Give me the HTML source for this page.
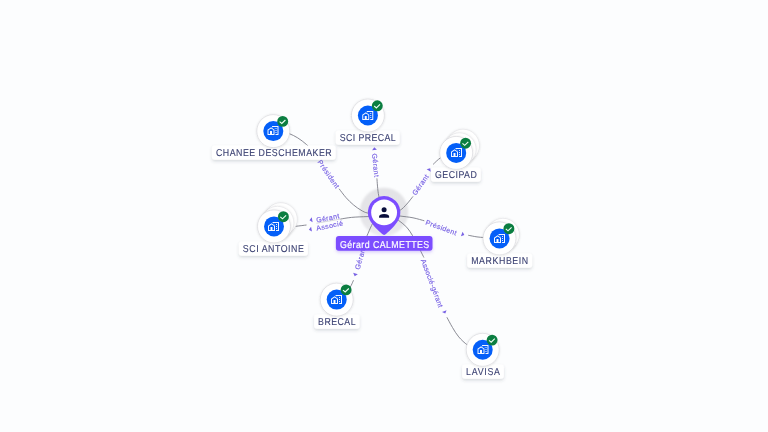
<!DOCTYPE html>
<html lang="fr"><head><meta charset="utf-8"><title>Graphe</title>
<style>
html,body{margin:0;padding:0;width:768px;height:432px;overflow:hidden;background:#fcfdfe}
svg{display:block;will-change:transform;text-rendering:geometricPrecision;font-family:"Liberation Sans",sans-serif}
.nl{font-size:10px;fill:#3c4273;text-anchor:middle;stroke:#3c4273;stroke-width:0.12px}
.el{font-size:7px;fill:#7862e4;text-anchor:middle;stroke:#7862e4;stroke-width:0.15px}
.edge{fill:none;stroke:#7d7e88;stroke-width:0.9}
</style></head><body>
<svg width="768" height="432" viewBox="0 0 768 432">
<defs>
<filter id="sh" x="-30%" y="-50%" width="160%" height="250%"><feDropShadow dx="0" dy="1.7" stdDeviation="1.7" flood-color="#4a4c60" flood-opacity="0.2"/></filter>
<filter id="cs" x="-30%" y="-30%" width="160%" height="160%"><feDropShadow dx="0" dy="0.4" stdDeviation="0.9" flood-color="#000" flood-opacity="0.14"/></filter>
<filter id="ps" x="-30%" y="-50%" width="160%" height="250%"><feDropShadow dx="0" dy="1.5" stdDeviation="1.6" flood-color="#7950f2" flood-opacity="0.3"/></filter>
<g id="ico" fill="#fff" stroke="#045ff8" stroke-width="0.12" transform="translate(-6,-6) scale(0.5)"><path d="M17 15h2v2h-2zM17 11h2v2h-2zM17 7h2v2h-2zM13.74 7l1.26.84V7z"/><path d="M10 3v1.51l2 1.33V5h9v14h-4v2h6V3z"/><path d="M8.17 5.7L15 10.25V21H1V10.48L8.17 5.7zM10 19h3v-7.84L8.17 8.09 3 11.38V19h3v-6h4v6z"/></g>
<linearGradient id="hg" x1="0" y1="0" x2="0" y2="1"><stop offset="0" stop-color="#e3e3e6"/><stop offset="0.6" stop-color="#e4e4e7"/><stop offset="1" stop-color="#ebebee"/></linearGradient>
<filter id="hb" x="-10%" y="-10%" width="120%" height="120%"><feGaussianBlur stdDeviation="0.8"/></filter>
</defs>
<rect width="768" height="432" fill="#fcfdfe"/>
<circle cx="384.0" cy="211.9" r="24.2" fill="url(#hg)" filter="url(#hb)"/>
<path class="edge" opacity="0.32" d="M316.5 223.2L340.3 219.1"/>
<path class="edge" d="M384.00 212.40C383.12 209.65 379.93 201.57 378.75 195.90C377.57 190.23 377.21 181.32 376.90 178.40"/>
<path class="edge" d="M280.00 130.50C281.50 131.00 286.04 132.27 289.00 133.50C291.96 134.73 294.83 136.07 297.75 137.90C300.67 139.73 303.96 142.32 306.50 144.50C309.04 146.68 311.92 149.92 313.00 151.00"/>
<path class="edge" d="M339.10 188.75C340.25 190.22 343.60 194.91 346.00 197.60C348.40 200.29 351.00 202.80 353.50 204.90C356.00 207.00 358.60 208.83 361.00 210.20C363.40 211.57 364.73 212.47 367.90 213.10C371.07 213.73 377.98 213.85 380.00 214.00"/>
<path class="edge" d="M390.00 214.00C391.65 213.40 397.11 212.05 399.90 210.40C402.69 208.75 404.57 206.43 406.75 204.10C408.93 201.77 411.96 197.68 413.00 196.40"/>
<path class="edge" d="M433.10 164.40C434.35 163.29 437.78 159.57 440.60 157.75C443.42 155.93 448.43 154.21 450.00 153.50"/>
<path class="edge" d="M390.00 214.50C391.65 214.75 396.07 215.45 399.90 216.00C403.73 216.55 408.93 217.00 413.00 217.80C417.07 218.60 422.42 220.30 424.30 220.80"/>
<path class="edge" d="M468.25 235.25C469.71 235.53 474.39 236.53 477.00 236.90C479.61 237.28 481.40 237.32 483.90 237.50C486.40 237.68 490.65 237.92 492.00 238.00"/>
<path class="edge" d="M285.00 227.00C286.82 226.88 292.32 226.58 295.90 226.25C299.48 225.92 304.73 225.21 306.50 225.00"/>
<path class="edge" d="M340.30 219.10C342.17 218.82 347.03 217.82 351.50 217.40C355.97 216.98 362.35 216.75 367.10 216.60C371.85 216.45 377.85 216.52 380.00 216.50"/>
<path class="edge" d="M376.00 217.00C375.25 218.43 372.98 222.50 371.50 225.60C370.02 228.70 368.18 233.03 367.10 235.60C366.02 238.17 365.35 240.10 365.00 241.00"/>
<path class="edge" d="M353.50 280.25C353.12 281.08 352.33 283.12 351.25 285.25C350.17 287.38 347.71 291.71 347.00 293.00"/>
<path class="edge" d="M390.00 214.50C391.43 215.48 395.81 218.28 398.60 220.40C401.39 222.53 404.45 224.75 406.75 227.25C409.05 229.75 410.69 232.61 412.40 235.40C414.11 238.19 415.61 241.36 417.00 244.00C418.39 246.64 419.60 249.00 420.75 251.25C421.90 253.50 423.38 256.46 423.90 257.50"/>
<path class="edge" d="M446.90 317.25C447.83 318.96 450.52 324.23 452.50 327.50C454.48 330.77 456.25 333.98 458.75 336.90C461.25 339.82 464.62 343.07 467.50 345.00C470.38 346.93 474.58 347.92 476.00 348.50"/>
<text class="el" transform="translate(375.70 165.20) rotate(84.5)" y="2.5" textLength="23.4" lengthAdjust="spacing">Gérant</text>
<text class="el" transform="translate(328.60 174.00) rotate(55.0)" y="2.5" textLength="32.5" lengthAdjust="spacing">Président</text>
<text class="el" transform="translate(420.40 184.80) rotate(-55.0)" y="2.5" textLength="23.4" lengthAdjust="spacing">Gérant</text>
<text class="el" transform="translate(441.20 227.50) rotate(20.5)" y="2.5" textLength="32.5" lengthAdjust="spacing">Président</text>
<text class="el" transform="translate(327.70 217.90) rotate(-10.5)" y="2.5" textLength="23.4" lengthAdjust="spacing">Gérant</text>
<text class="el" transform="translate(329.50 225.60) rotate(-11.0)" y="2.5" textLength="27.0" lengthAdjust="spacing">Associé</text>
<text class="el" transform="translate(360.20 258.00) rotate(-74.0)" y="2.5" textLength="23.4" lengthAdjust="spacing">Gérant</text>
<text class="el" transform="translate(432.10 283.20) rotate(69.4)" y="2.5" textLength="51.0" lengthAdjust="spacing">Associé-gérant</text>
<path d="M1.4 0L-1.3 -2.45V2.45Z" fill="#7862e4" transform="translate(374.40 148.75) rotate(264.5)"/>
<path d="M1.4 0L-1.3 -2.45V2.45Z" fill="#7862e4" transform="translate(429.40 169.40) rotate(-56.7)"/>
<path d="M1.4 0L-1.3 -2.45V2.45Z" fill="#7862e4" transform="translate(463.00 234.50) rotate(20.0)"/>
<path d="M1.4 0L-1.3 -2.45V2.45Z" fill="#7862e4" transform="translate(310.90 220.00) rotate(170.5)"/>
<path d="M1.4 0L-1.3 -2.45V2.45Z" fill="#7862e4" transform="translate(310.25 229.40) rotate(169.5)"/>
<path d="M1.4 0L-1.3 -2.45V2.45Z" fill="#7862e4" transform="translate(355.10 274.80) rotate(108.0)"/>
<path d="M1.4 0L-1.3 -2.45V2.45Z" fill="#7862e4" transform="translate(444.75 312.25) rotate(69.4)"/>
<g>
<rect x="335.7" y="130.5" width="64.0" height="14.3" rx="3" fill="#fff" filter="url(#sh)"/>
<text class="nl" transform="translate(367.70 141) scale(0.88 1)" textLength="63.6" lengthAdjust="spacing">SCI PRECAL</text>
<circle cx="367.9" cy="115.5" r="16.5" fill="#fff" stroke="#d0d0d5" stroke-opacity="0.8" stroke-width="0.7" filter="url(#cs)"/>
<circle cx="367.9" cy="115.5" r="10" fill="#045ff8"/>
<use href="#ico" x="367.75" y="115.50"/>
<circle cx="377.3" cy="105.8" r="5.45" fill="#0b7e41"/>
<path d="M374.20 106.00l2.2 1.9 3.6-3.5" fill="none" stroke="#f2fff7" stroke-width="1.1"/>
</g>
<g>
<rect x="211.9" y="145.5" width="123.8" height="14.3" rx="3" fill="#fff" filter="url(#sh)"/>
<text class="nl" transform="translate(273.80 156) scale(0.88 1)" textLength="131.6" lengthAdjust="spacing">CHANEE DESCHEMAKER</text>
<circle cx="273.3" cy="131.1" r="16.5" fill="#fff" stroke="#d0d0d5" stroke-opacity="0.8" stroke-width="0.7" filter="url(#cs)"/>
<circle cx="273.3" cy="131.1" r="10" fill="#045ff8"/>
<use href="#ico" x="273.00" y="130.50"/>
<circle cx="282.7" cy="121.4" r="5.45" fill="#0b7e41"/>
<path d="M279.60 121.60l2.2 1.9 3.6-3.5" fill="none" stroke="#f2fff7" stroke-width="1.1"/>
</g>
<g>
<rect x="431.0" y="167.5" width="49.8" height="14.3" rx="3" fill="#fff" filter="url(#sh)"/>
<text class="nl" transform="translate(455.90 178) scale(0.88 1)" textLength="47.5" lengthAdjust="spacing">GECIPAD</text>
<circle cx="463.0" cy="145.7" r="16.5" fill="#fff" stroke="#d0d0d5" stroke-opacity="0.55" stroke-width="0.7" filter="url(#cs)"/>
<circle cx="459.6" cy="149.3" r="16.5" fill="#fff" stroke="#d0d0d5" stroke-opacity="0.55" stroke-width="0.7" filter="url(#cs)"/>
<circle cx="456.2" cy="152.9" r="16.5" fill="#fff" stroke="#d0d0d5" stroke-opacity="0.8" stroke-width="0.7" filter="url(#cs)"/>
<circle cx="456.2" cy="152.9" r="10" fill="#045ff8"/>
<use href="#ico" x="456.50" y="152.50"/>
<circle cx="465.6" cy="143.2" r="5.45" fill="#0b7e41"/>
<path d="M462.50 143.40l2.2 1.9 3.6-3.5" fill="none" stroke="#f2fff7" stroke-width="1.1"/>
</g>
<g>
<rect x="467.2" y="253.5" width="65.0" height="14.3" rx="3" fill="#fff" filter="url(#sh)"/>
<text class="nl" transform="translate(499.70 264) scale(0.88 1)" textLength="64.8" lengthAdjust="spacing">MARKHBEIN</text>
<circle cx="502.9" cy="234.8" r="16.5" fill="#fff" stroke="#d0d0d5" stroke-opacity="0.55" stroke-width="0.7" filter="url(#cs)"/>
<circle cx="499.5" cy="238.4" r="16.5" fill="#fff" stroke="#d0d0d5" stroke-opacity="0.8" stroke-width="0.7" filter="url(#cs)"/>
<circle cx="499.5" cy="238.4" r="10" fill="#045ff8"/>
<use href="#ico" x="499.50" y="238.50"/>
<circle cx="508.9" cy="228.7" r="5.45" fill="#0b7e41"/>
<path d="M505.80 228.90l2.2 1.9 3.6-3.5" fill="none" stroke="#f2fff7" stroke-width="1.1"/>
</g>
<g>
<rect x="238.8" y="241.5" width="69.1" height="14.3" rx="3" fill="#fff" filter="url(#sh)"/>
<text class="nl" transform="translate(273.35 252) scale(0.88 1)" textLength="69.4" lengthAdjust="spacing">SCI ANTOINE</text>
<circle cx="280.8" cy="219.2" r="16.5" fill="#fff" stroke="#d0d0d5" stroke-opacity="0.55" stroke-width="0.7" filter="url(#cs)"/>
<circle cx="277.4" cy="222.8" r="16.5" fill="#fff" stroke="#d0d0d5" stroke-opacity="0.55" stroke-width="0.7" filter="url(#cs)"/>
<circle cx="274.0" cy="226.4" r="16.5" fill="#fff" stroke="#d0d0d5" stroke-opacity="0.8" stroke-width="0.7" filter="url(#cs)"/>
<circle cx="274.0" cy="226.4" r="10" fill="#045ff8"/>
<use href="#ico" x="273.50" y="226.50"/>
<circle cx="283.4" cy="216.7" r="5.45" fill="#0b7e41"/>
<path d="M280.30 216.90l2.2 1.9 3.6-3.5" fill="none" stroke="#f2fff7" stroke-width="1.1"/>
</g>
<g>
<rect x="314.1" y="314.5" width="45.5" height="14.3" rx="3" fill="#fff" filter="url(#sh)"/>
<text class="nl" transform="translate(336.85 325) scale(0.88 1)" textLength="42.6" lengthAdjust="spacing">BRECAL</text>
<circle cx="336.7" cy="299.6" r="16.5" fill="#fff" stroke="#d0d0d5" stroke-opacity="0.8" stroke-width="0.7" filter="url(#cs)"/>
<circle cx="336.7" cy="299.6" r="10" fill="#045ff8"/>
<use href="#ico" x="336.50" y="299.50"/>
<circle cx="346.1" cy="289.9" r="5.45" fill="#0b7e41"/>
<path d="M343.00 290.10l2.2 1.9 3.6-3.5" fill="none" stroke="#f2fff7" stroke-width="1.1"/>
</g>
<g>
<rect x="462.1" y="364.5" width="41.8" height="14.3" rx="3" fill="#fff" filter="url(#sh)"/>
<text class="nl" transform="translate(483.00 375) scale(0.88 1)" textLength="38.4" lengthAdjust="spacing">LAVISA</text>
<circle cx="482.7" cy="349.8" r="16.5" fill="#fff" stroke="#d0d0d5" stroke-opacity="0.8" stroke-width="0.7" filter="url(#cs)"/>
<circle cx="482.7" cy="349.8" r="10" fill="#045ff8"/>
<use href="#ico" x="483.00" y="349.50"/>
<circle cx="492.1" cy="340.1" r="5.45" fill="#0b7e41"/>
<path d="M489.00 340.30l2.2 1.9 3.6-3.5" fill="none" stroke="#f2fff7" stroke-width="1.1"/>
</g>
<g>
<path d="M369.45 219.55 A16.30 16.30 0 1 1 398.75 219.55 C396.12 224.94 389.18 231.09 386.30 233.85 Q384.10 236.05 381.90 233.85 C379.02 231.09 372.08 224.94 369.45 219.55 Z" fill="#7c4dff"/>
<circle cx="384.1" cy="212.4" r="12.95" fill="#fff"/>
<circle cx="384.1" cy="209.8" r="2.5" fill="#0a0f3c"/>
<path d="M379.1 217.8 v-1.2 q0 -2.7 5 -2.7 q5 0 5 2.7 v1.2 z" fill="#0a0f3c"/>
<rect x="335.9" y="235.9" width="96.6" height="14.8" rx="3" fill="#7c4dff" filter="url(#ps)"/>
<text transform="translate(384.6 248) scale(0.88 1)" font-size="10" fill="#fff" stroke="#fff" stroke-width="0.2" text-anchor="middle" textLength="101.4" lengthAdjust="spacing">Gérard CALMETTES</text>
</g>
</svg>
</body></html>
